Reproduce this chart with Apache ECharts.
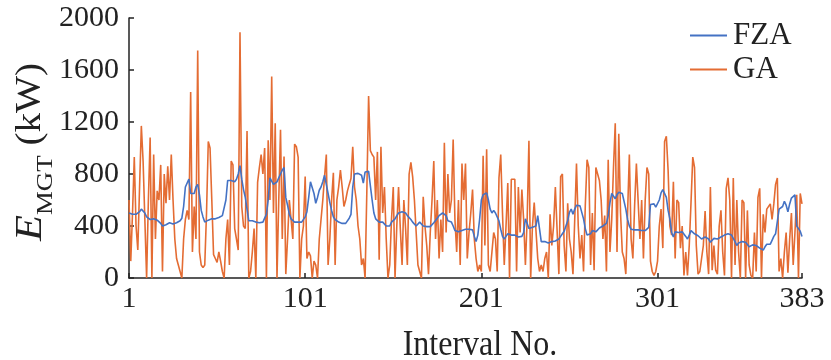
<!DOCTYPE html>
<html>
<head>
<meta charset="utf-8">
<script src="https://cdn.jsdelivr.net/npm/echarts@6/dist/echarts.min.js"></script>
<style>html,body{margin:0;padding:0;background:#fff}#c{width:831px;height:360px}</style>
</head>
<body>
<div id="c"></div>
<script>
const xTicks = [1, 101, 201, 301, 383];
const yTicks = [0, 400, 800, 1200, 1600, 2000];

const fza = [
500,495,490,485,490,500,510,530,520,500,
470,460,450,445,455,440,445,430,420,400,
395,410,420,425,420,415,420,425,430,440,
460,550,700,690,760,650,660,650,700,720,
640,520,470,430,440,445,450,455,460,455,
470,465,480,480,470,600,750,755,750,745,
740,760,800,865,760,680,620,530,440,445,
440,455,430,425,425,425,430,460,490,600,
770,770,720,710,740,770,800,830,850,620,
560,490,455,440,430,430,430,430,430,440,
470,510,620,740,750,650,575,620,675,700,
740,790,720,650,580,520,470,450,440,430,
425,420,420,420,430,460,490,700,800,810,
805,790,790,730,815,820,820,820,600,500,
455,440,430,440,430,420,400,390,400,430,
445,455,480,500,510,510,510,500,480,465,
450,430,420,400,410,430,420,400,400,395,
395,395,410,425,440,460,480,490,500,510,
480,440,435,430,400,365,360,355,350,365,
375,375,375,375,375,370,320,280,330,450,
600,640,640,655,600,530,500,520,500,500,
440,375,320,300,320,340,340,330,325,330,
320,315,315,320,350,455,420,380,365,390,
400,400,480,380,280,280,280,275,270,275,
280,280,285,290,300,320,340,360,375,440,
505,530,490,530,560,560,555,540,455,380,
330,325,340,365,360,355,365,385,400,400,
400,420,480,580,650,640,610,640,660,655,
650,650,530,450,400,375,375,370,375,370,
370,365,365,365,370,390,565,575,570,545,
535,600,655,680,690,620,520,455,350,315,
355,355,350,355,355,340,320,300,330,365,
350,340,330,325,310,300,305,315,300,300,
275,290,305,300,300,310,315,320,330,340,
340,335,330,325,280,250,270,275,280,275,
275,260,240,250,255,250,250,240,230,220,
215,240,260,250,260,290,320,340,350,530,
540,550,590,560,510,570,615,625,640,400,
380,360,320
];

const ga = [
600,130,500,930,400,215,700,1170,900,450,
0,600,1080,0,950,300,670,600,870,50,
800,575,860,600,950,600,300,150,100,50,
0,300,450,520,450,1430,200,550,300,1750,
200,100,80,100,500,1050,1000,600,180,150,
120,200,130,50,0,300,450,100,900,870,
380,300,215,1890,550,400,380,1130,0,50,
200,380,0,735,850,950,800,1000,0,1060,
600,1550,500,1190,0,600,1140,300,935,30,
300,600,450,300,1030,1010,930,0,300,400,
780,150,200,170,0,130,100,0,300,450,
600,780,950,100,300,600,810,100,600,700,
830,700,550,600,670,720,765,1010,700,600,
400,300,100,150,0,670,1400,980,950,930,
600,970,140,1010,500,700,300,0,100,450,
700,0,400,700,380,100,600,380,100,800,
890,780,600,350,100,50,0,625,400,250,
30,350,600,900,300,600,150,450,200,1040,
350,800,500,600,1065,450,200,600,100,880,
600,880,150,350,500,680,300,150,50,100,
50,940,250,990,100,50,200,350,300,50,
770,950,500,100,400,730,0,760,760,760,
50,700,350,680,450,100,450,1055,0,400,
580,580,150,50,100,50,150,200,0,490,
250,400,700,690,30,780,800,250,50,575,
300,200,30,450,880,400,150,330,50,560,
910,850,100,500,60,850,800,750,600,300,
480,50,910,200,450,850,1190,200,1110,500,
200,150,30,500,950,300,150,560,880,880,
300,600,150,600,850,800,130,50,20,50,
130,400,530,230,1050,1090,830,400,330,740,
150,600,580,230,400,20,200,20,250,580,
930,850,250,30,50,60,250,515,200,30,
700,60,250,60,30,400,520,200,20,690,
770,600,0,770,100,600,200,0,600,580,
0,520,100,20,0,350,50,620,690,0,
490,350,530,545,570,450,570,720,770,50,
150,0,200,350,40,300,500,100,350,640,
0,650,570
];

const seriesNames = ['FZA', 'GA'];
const colors = ['#4472C4', '#E46C33'];
const xTitle = 'Interval No.';

const chart = echarts.init(document.getElementById('c'), null, {renderer: 'canvas'});
const font = 'Liberation Serif';
const toPairs = arr => arr.map((v, i) => [i + 1, v]);

chart.setOption({
  animation: false,
  backgroundColor: '#fff',
  textStyle: {fontFamily: font},
  grid: {left: 129, right: 29, top: 18, bottom: 82, containLabel: false},
  legend: {
    orient: 'vertical',
    left: 685, top: 15,
    itemWidth: 37, itemHeight: 2, itemGap: 3,
    icon: 'rect',
    textStyle: {fontFamily: font, fontSize: 31, color: '#222', padding: [0,0,0,1]},
    data: seriesNames
  },
  xAxis: {
    type: 'value', min: 1, max: 383,
    axisLine: {lineStyle: {color: '#222', width: 1.5}},
    axisTick: {inside: true, length: 5, customValues: xTicks, lineStyle: {color: '#222', width: 1.5}},
    axisLabel: {customValues: xTicks, fontFamily: font, fontSize: 30, color: '#222', margin: 6},
    splitLine: {show: false}
  },
  yAxis: {
    type: 'value', min: 0, max: 2000, interval: 400,
    axisLine: {show: true, lineStyle: {color: '#222', width: 1.5}},
    axisTick: {show: true, inside: true, length: 5, lineStyle: {color: '#222', width: 1.5}},
    axisLabel: {fontFamily: font, fontSize: 30, color: '#222', margin: 10, formatter: v => String(v)},
    splitLine: {show: false}
  },
  graphic: [{
    type: 'text', x: 31, y: 152, rotation: Math.PI / 2, scaleX: 1.12,
    style: {
      text: '{i|E}{s|MGT}{n| (kW)}',
      align: 'center', verticalAlign: 'middle',
      rich: {
        i: {fontFamily: font, fontStyle: 'italic', fontSize: 38, fill: '#222', verticalAlign: 'bottom'},
        s: {fontFamily: font, fontSize: 24, fill: '#222', verticalAlign: 'bottom', padding: [0,0,-8,0]},
        n: {fontFamily: font, fontSize: 35, fill: '#222'}
      }
    }
  }, {
    type: 'text', x: 480, y: 345, scaleY: 1.15,
    style: {text: xTitle, fontFamily: font, fontSize: 32, fill: '#222', align: 'center', verticalAlign: 'middle'}
  }],
  series: [
    {name: seriesNames[1], type: 'line', data: toPairs(ga), showSymbol: false, symbol: 'none',
     lineStyle: {width: 1.6, color: colors[1]}, itemStyle: {color: colors[1]}, z: 2},
    {name: seriesNames[0], type: 'line', data: toPairs(fza), showSymbol: false, symbol: 'none',
     lineStyle: {width: 1.6, color: colors[0]}, itemStyle: {color: colors[0]}, z: 3}
  ]
});
</script>
</body>
</html>
